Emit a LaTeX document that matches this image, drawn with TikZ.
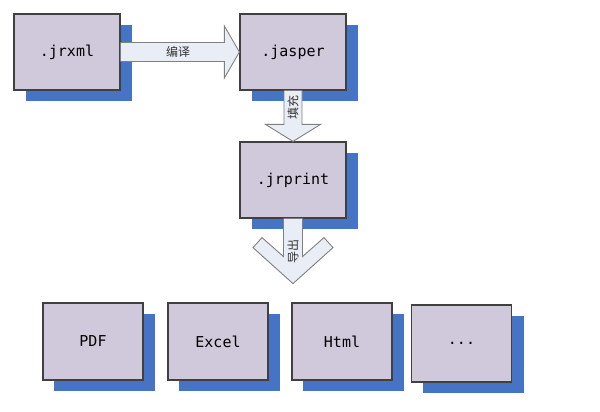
\documentclass[tikz,border=0pt]{standalone}
\usepackage{fontspec}
\setmonofont{DejaVu Sans Mono}
\newfontfamily\cjk{Noto Sans CJK SC}
\usetikzlibrary{calc,shadows}

\definecolor{boxfill}{HTML}{D0C9DC}
\definecolor{boxline}{HTML}{404040}
\definecolor{shadowblue}{HTML}{4674C4}
\definecolor{arrowfill}{HTML}{E9EDF5}
\definecolor{arrowline}{HTML}{808080}

\begin{document}
\begin{tikzpicture}[x=1pt,y=-1pt,
		filebox/.style={draw=boxline, fill=boxfill, line width=1.2pt,
			minimum width=106pt, minimum height=76pt, inner sep=0pt,
			font=\ttfamily\fontsize{15}{18}\selectfont,
			drop shadow={shadow xshift=12pt, shadow yshift=-11pt, fill=shadowblue, opacity=1}},
		outbox/.style={filebox, minimum width=100pt, minimum height=77pt,
			drop shadow={shadow xshift=11pt, shadow yshift=-11pt, fill=shadowblue, opacity=1}},
		fatarrow/.style={draw=arrowline, fill=arrowfill, line width=0.9pt, line join=miter},
		steplabel/.style={font=\cjk\fontsize{12}{14}\selectfont, text=black!80, inner sep=1pt}]
		
		\useasboundingbox (0,0) rectangle (600,412);
		
		% Source files
		\node[filebox] (jrxml) at (67,52) {.jrxml};
		\node[filebox] (jasper) at (293,52) {.jasper};
		\node[filebox] (jrprint) at (293,180) {.jrprint};
		
		% Export formats
		\node[outbox] (pdf) at (93,341.5) {PDF};
		\node[outbox] (excel) at (218,341.5) {Excel};
		\node[outbox] (html) at (342,341.5) {Html};
		\node[outbox] (more) at (461.5,343.5) {...};
		
		% Compile
		\draw[fatarrow] ($(jrxml.east)+(0,9.5)$) -- ($(jasper.west)+(-15,9.5)$)
			-- ($(jasper.west)+(-15,26)$) -- (jasper.west)
			-- ($(jasper.west)+(-15,-26)$) -- ($(jasper.west)+(-15,-9.5)$)
			-- ($(jrxml.east)+(0,-9.5)$);
		\node[steplabel] (compile) at ($(jrxml.east)!0.5!(jasper.west)+(-2,0)$) {编译};
		
		% Fill
		\draw[fatarrow] ($(jasper.south)+(-9,0)$) -- ($(jrprint.north)+(-9,-17)$)
			-- ($(jrprint.north)+(-27.5,-17)$) -- (jrprint.north)
			-- ($(jrprint.north)+(27.5,-17)$) -- ($(jrprint.north)+(9,-17)$)
			-- ($(jasper.south)+(9,0)$);
		\node[steplabel, rotate=90] (fill) at ($(jasper.south)+(0,17)$) {填充};
		
		% Export
		\coordinate (tip) at ($(jrprint.south)+(0,65)$);
		\draw[fatarrow] ($(jrprint.south)+(-9.5,0)$) -- ($(jrprint.south)+(-9.5,38)$)
			-- ($(jrprint.south)+(-31,19)$) -- ($(jrprint.south)+(-40,29)$) -- (tip)
			-- ($(jrprint.south)+(40,29)$) -- ($(jrprint.south)+(31,19)$)
			-- ($(jrprint.south)+(9.5,38)$) -- ($(jrprint.south)+(9.5,0)$);
		\node[steplabel, rotate=90] (export) at ($(jrprint.south)+(0,33)$) {导出};
		
	\end{tikzpicture}
\end{document}
